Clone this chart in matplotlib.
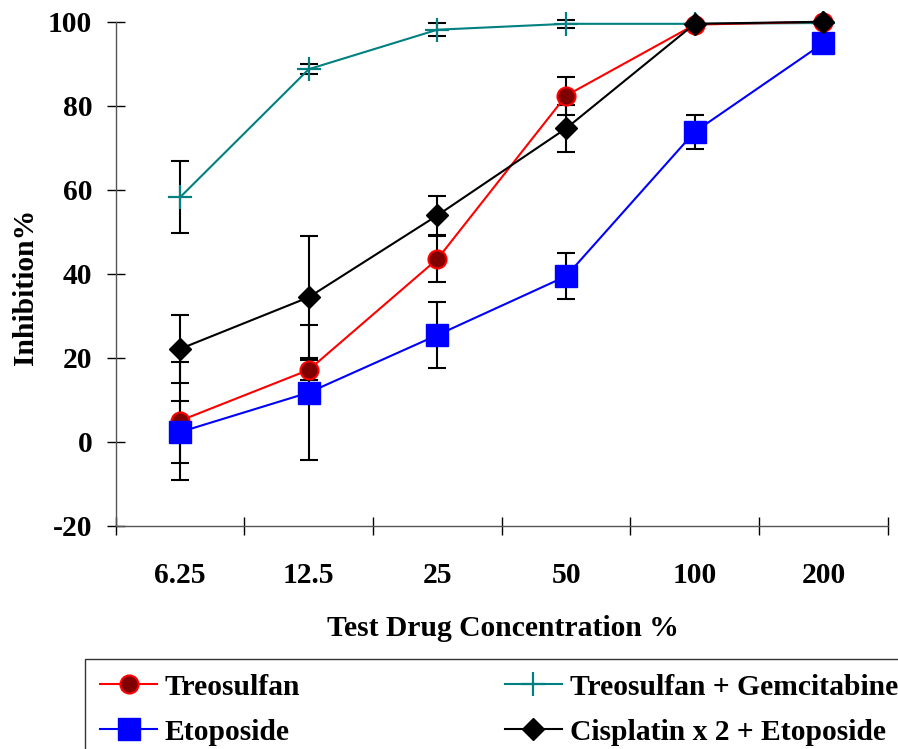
import numpy as np
import matplotlib
matplotlib.use("Agg")
import matplotlib.pyplot as plt

plt.rcParams["font.family"] = ["Liberation Serif", "DejaVu Serif"]
plt.rcParams["font.weight"] = "bold"
plt.rcParams["axes.unicode_minus"] = False

# data
conc = ["6.25", "12.5", "25", "50", "100", "200"]
treo = [5.0, 17.1, 43.5, 82.4, 99.3, 100.0]
treo_err = [14.0, 2.4, 5.5, 4.5, 0, 0]
etop = [2.3, 11.7, 25.4, 39.4, 73.8, 94.9]
etop_err = [7.3, 16.0, 7.8, 5.5, 4.0, 0]
treo_gem = [58.2, 88.7, 98.1, 99.5, 99.5, 99.7]
treo_gem_err = [8.6, 1.2, 1.5, 1.0, 0, 0]
cis_etop = [22.1, 34.4, 53.9, 74.6, 99.5, 100.0]
cis_etop_err = [8.0, 14.5, 4.7, 5.5, 0, 0]

x = np.arange(1, len(conc) + 1)
fs = 21.3

fig = plt.figure(figsize=(8.98, 7.49), dpi=100)
ax = fig.add_axes([0.1289, 0.2981, 0.8597, 0.6729])

series = [
    ("Treosulfan + Gemcitabine", treo_gem, treo_gem_err,
     dict(color="#008080", marker="+", ms=17, mew=1.6)),
    ("Treosulfan", treo, treo_err,
     dict(color="red", marker="o", ms=13, mfc="#800000", mec="red", mew=1.5)),
    ("Etoposide", etop, etop_err,
     dict(color="blue", marker="s", ms=16, mfc="blue", mec="blue")),
    ("Cisplatin x 2 + Etoposide", cis_etop, cis_etop_err,
     dict(color="black", marker="D", ms=11.5, mfc="black", mec="black")),
]

handles = {}
for i, (name, vals, err, st) in enumerate(series):
    ax.errorbar(x, vals, yerr=err, fmt="none", ecolor="black", elinewidth=1.5,
                capsize=6.5, capthick=1.5, zorder=2, clip_on=False)
    ln, = ax.plot(x, vals, lw=1.5, zorder=3 + i, clip_on=False, **st)
    handles[name] = ln

ax.set_xlim(0.5, 6.5)
ax.set_ylim(-20, 100)
ax.set_yticks(np.arange(-20, 101, 20))
ax.set_xticks(x)
ax.set_xticklabels(conc)
ax.set_xticks(np.arange(0.5, 6.6, 1), minor=True)

for s in ["top", "right"]:
    ax.spines[s].set_visible(False)
for s in ["left", "bottom"]:
    ax.spines[s].set_color("#555555")
    ax.spines[s].set_linewidth(1.0)

ax.tick_params(axis="y", direction="inout", length=13, width=1, pad=10.5,
               labelsize=fs)
ax.tick_params(axis="x", which="major", length=0, pad=26, labelsize=fs)
ax.tick_params(axis="x", which="minor", direction="inout", length=13, width=1)

fig.text(503 / 898, 1 - 629 / 749, "Test Drug Concentration %", ha="center",
         va="center", fontsize=fs, fontweight="bold")
fig.text(26 / 898, 1 - 287 / 749, "Inhibition%", ha="center", va="center",
         rotation=90, fontsize=fs, fontweight="bold")

order = ["Treosulfan", "Etoposide", "Treosulfan + Gemcitabine",
         "Cisplatin x 2 + Etoposide"]
leg = fig.legend([handles[n] for n in order], order, ncol=2,
                 loc="upper left", bbox_to_anchor=(85 / 898, 1 - 659 / 749),
                 fontsize=fs, frameon=True, fancybox=False, edgecolor="black",
                 handlelength=1.95, handletextpad=0.25, columnspacing=6.9,
                 labelspacing=0.6, borderpad=0.5, borderaxespad=0,
                 markerscale=1.0)
leg.get_frame().set_linewidth(1.0)

fig.savefig("out.png", dpi=100)
